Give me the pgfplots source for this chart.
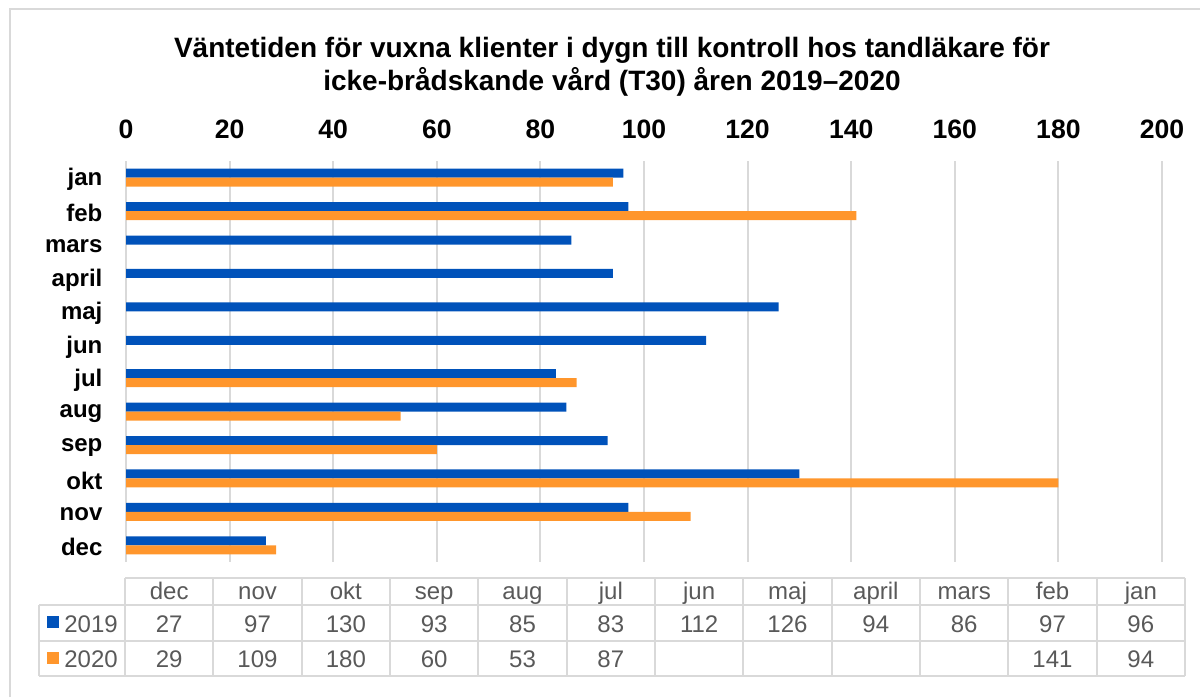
\documentclass[border=0pt]{standalone}
\usepackage{pgfplots}
\pgfplotsset{compat=1.18}
\usepackage{fontspec}
\setmainfont{Liberation Sans}
\definecolor{b19}{RGB}{0,82,186}
\definecolor{o20}{RGB}{255,150,44}
\definecolor{gridc}{RGB}{217,217,217}
\definecolor{txt}{RGB}{89,89,89}
\begin{document}
\begin{tikzpicture}
\path[use as bounding box] (0,0) rectangle (600pt,-348.5pt);
\draw[gridc, line width=1pt] (5pt,-348.5pt) -- (5pt,-4.5pt) -- (600pt,-4.5pt);
\node[anchor=base, font=\bfseries\fontsize{14}{16}\selectfont] at (306pt,-28.5pt) {Väntetiden för vuxna klienter i dygn till kontroll hos tandläkare för};
\node[anchor=base, font=\bfseries\fontsize{14}{16}\selectfont] at (306pt,-45pt) {icke-brådskande vård (T30) åren 2019–2020};
\begin{axis}[
  at={(63pt,-281pt)}, anchor=south west,
  scale only axis, width=518pt, height=200.5pt,
  xbar, y dir=reverse,
  xmin=0, xmax=200, ymin=-0.5, ymax=11.5,
  xtick={0,20,...,200},
  ytick={0,...,11},
  yticklabels={jan,feb,mars,april,maj,jun,jul,aug,sep,okt,nov,dec},
  xticklabel pos=upper,
  axis line style={draw=none},
  tick style={draw=none},
  xmajorgrids, major grid style={gridc, line width=1pt},
  xticklabel style={font=\bfseries\fontsize{13.3}{15}\selectfont, anchor=base, yshift=11.5pt},
  yticklabel style={font=\bfseries\fontsize{12}{14}\selectfont, anchor=east, xshift=-4pt, yshift=-1pt},
  /pgf/number format/assume math mode=true,
  bar width=4.5pt,
]
\addplot[fill=b19, draw=none, bar shift=2.25pt] coordinates {
 (96,0) (97,1) (86,2) (94,3) (126,4) (112,5) (83,6) (85,7) (93,8) (130,9) (97,10) (27,11)};
\addplot[fill=o20, draw=none, bar shift=-2.25pt] coordinates {
 (94,0) (141,1) (87,6) (53,7) (60,8) (180,9) (109,10) (29,11)};
\end{axis}
\begin{scope}[x=0.5pt, y=-0.5pt]
  \draw[gridc, line width=1pt] (125,578) -- (1185,578);
  \draw[gridc, line width=1pt] (39,605) -- (1185,605);
  \draw[gridc, line width=1pt] (39,641) -- (1185,641);
  \draw[gridc, line width=1pt] (39,676) -- (1185,676);
  \draw[gridc, line width=1pt] (39,605) -- (39,676);
  \foreach \i in {0,...,12} {
    \draw[gridc, line width=1pt] ({125+88.333*\i},578) -- ({125+88.333*\i},676);
  }
  \foreach \m [count=\i from 0] in {dec,nov,okt,sep,aug,jul,jun,maj,april,mars,feb,jan} {
    \node[txt, font=\fontsize{12}{14}\selectfont, anchor=base] at ({125+88.333*\i+44.17},599) {\m};
  }
  \foreach \v [count=\i from 0] in {27,97,130,93,85,83,112,126,94,86,97,96} {
    \node[txt, font=\fontsize{12}{14}\selectfont, anchor=base] at ({125+88.333*\i+44.17},632) {\v};
  }
  \foreach \v [count=\i from 0] in {29,109,180,60,53,87,{},{},{},{},141,94} {
    \node[txt, font=\fontsize{12}{14}\selectfont, anchor=base] at ({125+88.333*\i+44.17},667) {\v};
  }
  \fill[b19] (47,616) rectangle (59,628);
  \fill[o20] (47,652) rectangle (59,664);
  \node[txt, font=\fontsize{12}{14}\selectfont, anchor=base west, inner sep=0pt] at (64,632) {2019};
  \node[txt, font=\fontsize{12}{14}\selectfont, anchor=base west, inner sep=0pt] at (64,667) {2020};
\end{scope}
\end{tikzpicture}
\end{document}
